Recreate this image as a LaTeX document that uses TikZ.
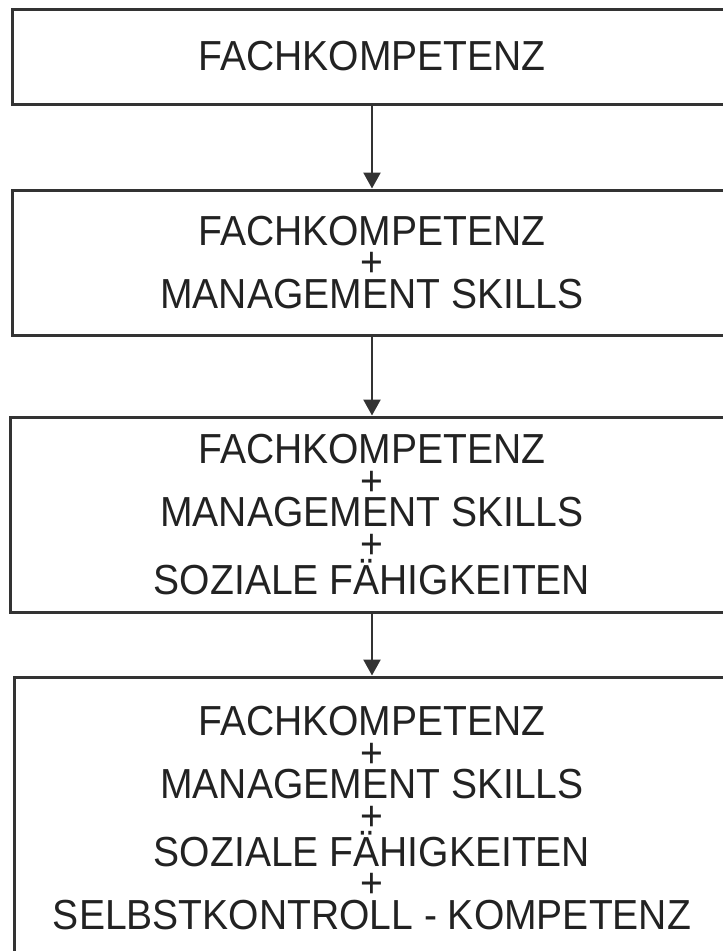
\documentclass[tikz,border=0pt]{standalone}
\usepackage{fontspec}
\newfontfamily\boxfont[FakeStretch=0.93]{Liberation Sans}
\usepackage{xcolor}
\usetikzlibrary{arrows.meta, math}
\definecolor{darkline}{RGB}{51, 51, 51}
\definecolor{darktext}{RGB}{34, 34, 34}

\begin{document}
\begin{tikzpicture}[x=1pt,y=-1pt,
  stage/.style={draw=darkline, line width=3pt, inner sep=0pt, align=center,
    text=darktext, font={\boxfont\fontsize{42}{31.5}\selectfont}},
  down/.style={-{Triangle[width=17pt,length=16pt]}, line width=2.5pt, draw=darkline}]
\tikzmath{
\cx=372;
}
\useasboundingbox (0,0) rectangle (723,951);
\clip (0,0) rectangle (723,951);

%%%%%%%%%% stages
\node[stage, minimum width=719pt, minimum height=95pt] (fach) at (\cx,56.5)
  {FACHKOMPETENZ};
\node[stage, minimum width=720pt, minimum height=145pt] (mgmt) at (\cx,262.5)
  {FACHKOMPETENZ\\+\\MANAGEMENT SKILLS};
\node[stage, minimum width=723pt, minimum height=195pt] (sozial) at (\cx,514.5)
  {FACHKOMPETENZ\\+\\MANAGEMENT SKILLS\\+\\SOZIALE FÄHIGKEITEN};
\node[stage, minimum width=716pt, minimum height=282pt] (selbst) at (\cx,818)
  {FACHKOMPETENZ\\+\\MANAGEMENT SKILLS\\+\\SOZIALE FÄHIGKEITEN\\+\\SELBSTKONTROLL - KOMPETENZ};

%%%%%%%%%% arrows
\draw[down] (fach) -- (mgmt);
\draw[down] (mgmt) -- (sozial);
\draw[down] (sozial) -- (selbst);
\end{tikzpicture}
\end{document}
